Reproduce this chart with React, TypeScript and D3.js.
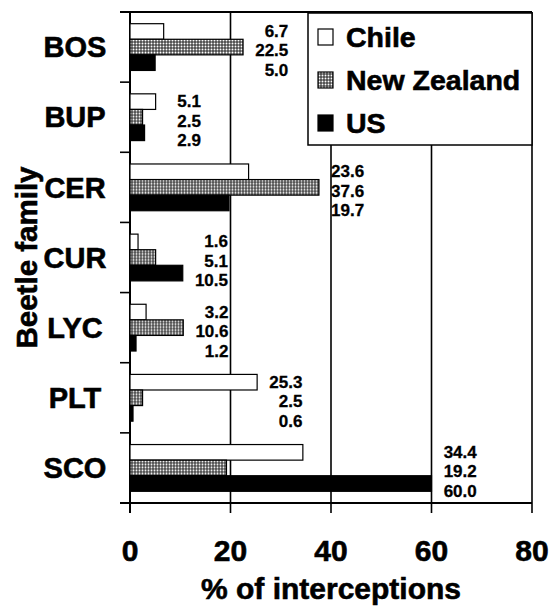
import React from "react";
import * as d3 from "d3";

// beetle families and % of interceptions per country
const families = ["BOS", "BUP", "CER", "CUR", "LYC", "PLT", "SCO"];
const countries = ["Chile", "New Zealand", "US"];
const chile = [6.7, 5.1, 23.6, 1.6, 3.2, 25.3, 34.4];
const newZealand = [22.5, 2.5, 37.6, 5.1, 10.6, 2.5, 19.2];
const us = [5.0, 2.9, 19.7, 10.5, 1.2, 0.6, 60.0];
const xTicks = [0, 20, 40, 60, 80];

const series = [chile, newZealand, us];
const FONT = "'Liberation Sans', Arial, Helvetica, sans-serif";

const width = 549;
const height = 608;
const margin = { top: 12, right: 17, bottom: 105, left: 130 };

export default function App() {
  const x = d3.scaleLinear().domain([0, 80]).range([margin.left, width - margin.right]);
  const y = d3.scaleBand<string>().domain(families).range([margin.top, height - margin.bottom]).padding(0);
  const inner = d3.scaleBand<string>().domain(countries).range([0, y.bandwidth()]).paddingInner(0).paddingOuter(0.75);

  const fills = ["#fff", "url(#stipple)", "#000"];
  const top = margin.top;
  const bottom = height - margin.bottom;
  const boundaries = families.map(f => y(f) || 0).concat([bottom]);
  // scanned print looks heavier than plain bold
  const heavy = { stroke: "#000", strokeWidth: 0.6 };

  return (
    <svg width={width} height={height} style={{ position: "absolute", left: 0, top: 0, background: "#fff" }} fontFamily={FONT} fontWeight="bold">
      <defs>
        <pattern id="stipple" width="3" height="3" patternUnits="userSpaceOnUse">
          <rect width="3" height="3" fill="#4a4a4a" />
          <circle cx="1.5" cy="1.5" r="0.95" fill="#fff" />
        </pattern>
      </defs>

      {/* vertical grid lines + bottom ticks */}
      {xTicks.map(t => (
        <line key={t} x1={x(t)} x2={x(t)} y1={top} y2={bottom + 10} stroke="#000" strokeWidth={t === 0 ? 2 : 1.6} />
      ))}
      {/* top and bottom frame */}
      <line x1={margin.left - 10} x2={x(80)} y1={top} y2={top} stroke="#000" strokeWidth={1.8} />
      <line x1={margin.left - 10} x2={x(80)} y1={bottom} y2={bottom} stroke="#000" strokeWidth={1.8} />
      {/* left ticks between families */}
      {boundaries.map((b, i) => (
        <line key={i} x1={margin.left - 10} x2={margin.left} y1={b} y2={b} stroke="#000" strokeWidth={1.6} />
      ))}

      {/* bars */}
      {families.map((f, i) => (
        <g key={f} transform={`translate(0,${y(f)})`}>
          {countries.map((c, j) => (
            <rect
              key={c}
              x={x(0)}
              y={inner(c)}
              width={x(series[j][i]) - x(0)}
              height={inner.bandwidth()}
              fill={fills[j]}
              stroke="#000"
              strokeWidth={1.2}
            />
          ))}
        </g>
      ))}

      {/* value labels */}
      {families.map((f, i) => {
        const vals = series.map(s => s[i]);
        const right = x(Math.max(...vals) + 9);
        return (
          <g key={f}>
            {vals.map((v, j) => (
              <text key={j} x={right} y={(y(f) || 0) + 19 + j * 19.5} dy="0.35em" textAnchor="end" fontSize={17} stroke="#000" strokeWidth={0.3}>
                {v.toFixed(1)}
              </text>
            ))}
          </g>
        );
      })}

      {/* category labels */}
      {families.map(f => (
        <text key={f} x={75} y={(y(f) || 0) + y.bandwidth() / 2} dy="0.35em" textAnchor="middle" fontSize={29} {...heavy}>
          {f}
        </text>
      ))}

      {/* x tick labels */}
      {xTicks.map(t => (
        <text key={t} x={x(t)} y={561} textAnchor="middle" fontSize={30} {...heavy}>{t}</text>
      ))}

      <text x={(x(0) + x(80)) / 2} y={599} textAnchor="middle" fontSize={30} {...heavy}>% of interceptions</text>
      <text transform={`translate(37,${(top + bottom) / 2}) rotate(-90)`} textAnchor="middle" fontSize={29.5} {...heavy}>Beetle family</text>

      {/* legend */}
      <g>
        <rect x={308} y={13} width={x(80) - 308} height={132} fill="#fff" stroke="#000" strokeWidth={1.5} />
        {countries.map((c, j) => (
          <g key={c} transform={`translate(318,${37 + j * 43})`}>
            <rect x={0} y={-8} width={15} height={16} fill={fills[j]} stroke="#000" strokeWidth={1.2} />
            <text x={28} y={0} dy="0.35em" fontSize={28.5} {...heavy}>{c}</text>
          </g>
        ))}
      </g>
    </svg>
  );
}
